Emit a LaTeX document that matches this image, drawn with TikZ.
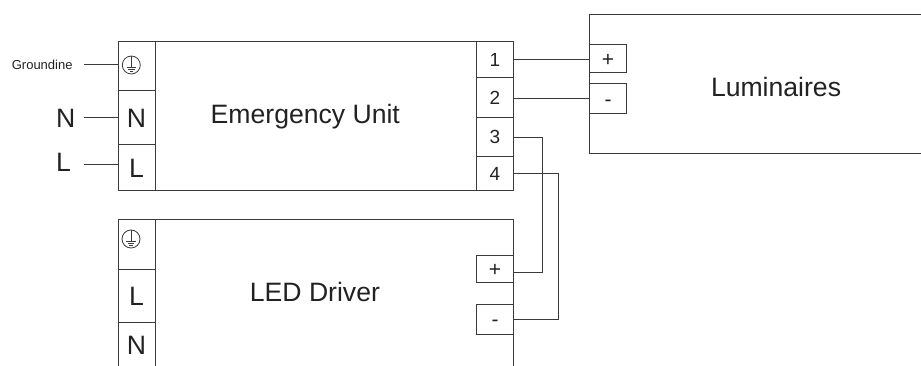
\documentclass[tikz,border=0pt]{standalone}
\usepackage{fontspec}
\setmainfont{Liberation Sans}
\definecolor{ln}{HTML}{3A3A3A}
\definecolor{tx}{HTML}{222222}
\begin{document}
\begin{tikzpicture}[x=1pt,y=-1pt,
  box/.style={draw=ln, line width=1pt, inner sep=0pt, outer sep=0pt, text=tx},
  term/.style={box, font=\fontsize{19}{19}\selectfont, text height=13.6pt, text depth=0pt},
  pm/.style={box, font=\fontsize{21}{21}\selectfont, text height=15pt, text depth=0pt},
  letr/.style={box, font=\fontsize{26.6}{26.6}\selectfont, text height=19pt, text depth=0pt},
  bigtxt/.style={inner sep=0pt, text=tx, font=\fontsize{26.6}{30}\selectfont},
  lab/.style={inner sep=0pt, outer sep=0pt, text=tx, text depth=0pt},
  wire/.style={draw=ln, line width=1pt},
  earth/.pic={
    \draw[ln, line width=0.8pt] (0,0) circle (9);
    \draw[ln, line width=0.8pt] (0,-9) -- (0,2);
    \draw[ln, line width=0.8pt] (-4.8,2) -- (4.8,2);
    \draw[ln, line width=0.8pt] (-3.3,4.3) -- (3.3,4.3);
    \draw[ln, line width=0.8pt] (-1.8,6.4) -- (1.8,6.4);
  }]
\useasboundingbox (0,0) rectangle (921,366);
\clip (0,0) rectangle (921,366);

% ---------- Emergency Unit ----------
\node[box, minimum width=395, minimum height=149] (eu) at (315.5,116.5) {};
\node[bigtxt, anchor=base west] (eut) at (210.5,123.2) {Emergency Unit};
\node[box, minimum width=37, minimum height=49] (eg) at (136.5,66.5) {};
\pic at (131.3,65) {earth};
\node[letr, minimum width=37, minimum height=54] (en) at (136.5,118) {N};
\node[letr, minimum width=37, minimum height=46] (el) at (136.5,168) {L};

\node[term, minimum width=36.6, minimum height=35.3] (t1) at (495,59.65) {1};
\node[term, minimum width=36.6, minimum height=40.4] (t2) at (495,97.5) {2};
\node[term, minimum width=36.6, minimum height=39] (t3) at (495,137.2) {3};
\node[term, minimum width=36.6, minimum height=34.3] (t4) at (495,173.85) {4};

% ---------- input labels ----------
\node[lab, font=\fontsize{13}{13}\selectfont, text height=9.3pt] (gl) at (42.2,65) {Groundine};
\node[lab, font=\fontsize{26.6}{26.6}\selectfont, text height=19pt] (nl) at (65.7,118) {N};
\node[lab, font=\fontsize{26.6}{26.6}\selectfont, text height=19pt] (ll) at (63.5,162.2) {L};
\draw[wire] ([xshift=11.3pt]gl.east) -- (gl.east -| eg.west);
\draw[wire] ([xshift=9pt]nl.east) -- (nl.east -| en.west);
\draw[wire] ([xshift=13.5pt,yshift=-2.8pt]ll.east) -- ([yshift=-2.8pt]ll.east -| el.west);

% ---------- Luminaires ----------
\node[box, minimum width=360, minimum height=139] (lum) at (769.3,84.5) {};
\node[bigtxt, anchor=base west] (lumt) at (710.8,96.7) {Luminaires};
\node[pm, minimum width=37.4, minimum height=28] (lp) at (608,58.7) {+};
\node[pm, minimum width=37.4, minimum height=29.3] (lm) at (608,98.65) {-};

\draw[wire] (t1.east) -- (t1.east -| lp.west);
\draw[wire] (lm.west -| t2.east) -- (lm.west);

% ---------- LED Driver ----------
\node[box, minimum width=395, minimum height=181.4] (dr) at (315.5,310) {};
\node[bigtxt, anchor=base west] (drt) at (249.7,301) {LED Driver};
\node[box, minimum width=37, minimum height=49.7] (dg) at (136.5,244.15) {};
\pic at (131,239) {earth};
\node[letr, minimum width=37, minimum height=53.7] (dl) at (136.5,295.85) {L};
\node[letr, minimum width=37, minimum height=45.3] (dn) at (136.5,345.35) {N};
\node[pm, minimum width=36.6, minimum height=27.3] (dp) at (495,268.65) {+};
\node[pm, minimum width=36.6, minimum height=29.3] (dm) at (495,319.35) {-};

% ---------- wires to driver ----------
\coordinate (b3) at (542.3,272.3);
\coordinate (b4) at (558.3,319.3);
\draw[wire] (t3.east) -| (b3) -- (b3 -| dp.east);
\draw[wire] (t4.east) -| (b4) -- (b4 -| dm.east);
\end{tikzpicture}
\end{document}
